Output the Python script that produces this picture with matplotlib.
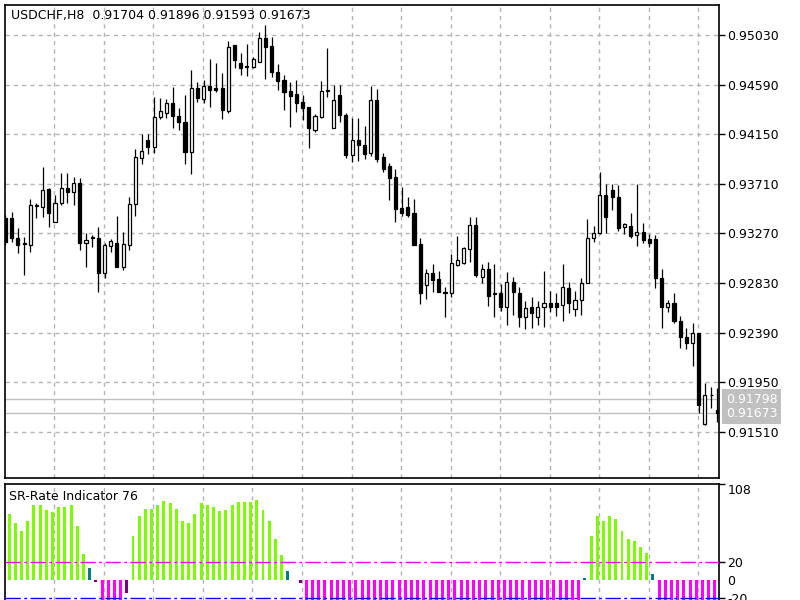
if True: # imports
    import matplotlib
    matplotlib.use('Agg')
    import matplotlib.pyplot as plt
    import matplotlib.transforms as mtransforms
    import numpy as np


symbol_title    = "USDCHF,H8  0.91704 0.91896 0.91593 0.91673"
indicator_title = "SR-Rate Indicator 76"

# H8 candles, oldest first
opens = [
  0.93406, 0.93406, 0.93229, 0.93185, 0.93167, 0.93513, 0.93504, 0.93664, 0.93371, 0.93539,
  0.93672, 0.93637, 0.93717, 0.93185, 0.93229, 0.93229, 0.92918, 0.93158, 0.93185, 0.92972,
  0.93167, 0.93531, 0.93939, 0.94098, 0.94036, 0.94302, 0.94338, 0.94426, 0.94311, 0.94261,
  0.93994, 0.94562, 0.94462, 0.94577, 0.94562, 0.94562, 0.94358, 0.94941, 0.94784, 0.94755,
  0.94748, 0.94793, 0.95003, 0.94932, 0.94704, 0.94630, 0.94536, 0.94506, 0.94438, 0.94388,
  0.94187, 0.94305, 0.94536, 0.94202, 0.94497, 0.94320, 0.93965, 0.94098, 0.94054, 0.93983,
  0.94453, 0.93947, 0.93868, 0.93770, 0.93495, 0.93507, 0.93451, 0.93176, 0.92812, 0.92918,
  0.92865, 0.92745, 0.92741, 0.92989, 0.93007, 0.93131, 0.93344, 0.92883, 0.92954, 0.92732,
  0.92741, 0.92617, 0.92839, 0.92741, 0.92528, 0.92617, 0.92528, 0.92620, 0.92655, 0.92655,
  0.92635, 0.92788, 0.92599, 0.92679, 0.92832, 0.93226, 0.93276, 0.93610, 0.93655, 0.93590,
  0.93329, 0.93335, 0.93256, 0.93285, 0.93217, 0.93217, 0.92872, 0.92620, 0.92650, 0.92495,
  0.92348, 0.92300, 0.92389, 0.91579, 0.91836, 0.91704 ]
highs = [
  0.93433, 0.93460, 0.93318, 0.93238, 0.93575, 0.93539, 0.93859, 0.93672, 0.93610, 0.93806,
  0.93806, 0.93770, 0.93761, 0.93273, 0.93256, 0.93327, 0.93185, 0.93220, 0.93424, 0.93282,
  0.93593, 0.94018, 0.94151, 0.94151, 0.94480, 0.94471, 0.94462, 0.94568, 0.94382, 0.94497,
  0.94719, 0.94615, 0.94630, 0.94817, 0.94784, 0.94692, 0.94979, 0.94941, 0.94870, 0.94950,
  0.94834, 0.95059, 0.95118, 0.95015, 0.94772, 0.94675, 0.94615, 0.94630, 0.94497, 0.94391,
  0.94329, 0.94622, 0.94914, 0.94586, 0.94586, 0.94338, 0.94293, 0.94293, 0.94222, 0.94577,
  0.94551, 0.93986, 0.93894, 0.93841, 0.93681, 0.93593, 0.93575, 0.93229, 0.92954, 0.92998,
  0.92936, 0.92794, 0.93087, 0.93247, 0.93149, 0.93415, 0.93415, 0.92998, 0.93016, 0.92998,
  0.92821, 0.92927, 0.92883, 0.92794, 0.92670, 0.92706, 0.92670, 0.92939, 0.92761, 0.92744,
  0.92998, 0.92841, 0.92761, 0.92874, 0.93398, 0.93335, 0.93817, 0.93708, 0.93708, 0.93699,
  0.93362, 0.93453, 0.93708, 0.93365, 0.93264, 0.93256, 0.92951, 0.92679, 0.92744, 0.92537,
  0.92428, 0.92472, 0.92389, 0.91946, 0.91905, 0.91896 ]
lows = [
  0.93167, 0.93193, 0.93096, 0.92901, 0.93105, 0.93406, 0.93415, 0.93327, 0.93371, 0.93522,
  0.93539, 0.93522, 0.93123, 0.92972, 0.93149, 0.92750, 0.92874, 0.93105, 0.92972, 0.92945,
  0.93123, 0.93424, 0.93885, 0.93974, 0.93983, 0.94285, 0.94293, 0.94205, 0.94187, 0.93885,
  0.93797, 0.94438, 0.94426, 0.94391, 0.94527, 0.94285, 0.94338, 0.94737, 0.94675, 0.94666,
  0.94737, 0.94793, 0.94639, 0.94657, 0.94542, 0.94364, 0.94214, 0.94349, 0.94276, 0.94027,
  0.94172, 0.94293, 0.94480, 0.94202, 0.94258, 0.93939, 0.93906, 0.93915, 0.93930, 0.93956,
  0.93906, 0.93817, 0.93566, 0.93374, 0.93424, 0.93418, 0.93167, 0.92643, 0.92688, 0.92750,
  0.92750, 0.92528, 0.92706, 0.92981, 0.92998, 0.93016, 0.92883, 0.92830, 0.92626, 0.92528,
  0.92581, 0.92457, 0.92546, 0.92440, 0.92422, 0.92431, 0.92457, 0.92442, 0.92575, 0.92537,
  0.92495, 0.92566, 0.92537, 0.92546, 0.92830, 0.93196, 0.93264, 0.93273, 0.93477, 0.93294,
  0.93264, 0.93226, 0.93158, 0.93182, 0.93146, 0.92783, 0.92428, 0.92575, 0.92472, 0.92251,
  0.92242, 0.92094, 0.91674, 0.91570, 0.91718, 0.91593 ]
closes = [
  0.93193, 0.93229, 0.93167, 0.93176, 0.93522, 0.93522, 0.93655, 0.93451, 0.93539, 0.93672,
  0.93637, 0.93717, 0.93185, 0.93211, 0.93238, 0.92918, 0.93167, 0.93202, 0.92972, 0.93176,
  0.93531, 0.93947, 0.94001, 0.94036, 0.94302, 0.94355, 0.94426, 0.94311, 0.94258, 0.93994,
  0.94562, 0.94473, 0.94577, 0.94542, 0.94542, 0.94364, 0.94923, 0.94808, 0.94737, 0.94748,
  0.94817, 0.95003, 0.94926, 0.94704, 0.94624, 0.94527, 0.94489, 0.94429, 0.94379, 0.94202,
  0.94314, 0.94536, 0.94540, 0.94453, 0.94320, 0.93965, 0.94098, 0.94054, 0.93974, 0.94453,
  0.93930, 0.93841, 0.93761, 0.93486, 0.93453, 0.93433, 0.93167, 0.92741, 0.92918, 0.92856,
  0.92750, 0.92750, 0.93007, 0.93034, 0.93140, 0.93344, 0.92901, 0.92954, 0.92714, 0.92737,
  0.92617, 0.92839, 0.92750, 0.92528, 0.92608, 0.92564, 0.92617, 0.92655, 0.92620, 0.92620,
  0.92794, 0.92650, 0.92679, 0.92832, 0.93229, 0.93276, 0.93610, 0.93418, 0.93590, 0.93315,
  0.93353, 0.93247, 0.93285, 0.93211, 0.93182, 0.92872, 0.92620, 0.92650, 0.92495, 0.92354,
  0.92295, 0.92389, 0.91748, 0.91836, 0.91840, 0.91673 ]

price_ticks = [0.95030, 0.94590, 0.94150, 0.93710, 0.93270,
               0.92830, 0.92390, 0.91950, 0.91510]
ask_price = 0.91798
bid_price = 0.91673

# SR-Rate indicator, one value per candle
sr_rate = [
   74,  64,  55,  66,  84,  84,  78,  76,  82,  82,
   84,  61,  29,  14,  -2, -30, -30, -30, -30, -14,
   49,  72,  80,  80,  84,  89,  86,  80,  66,  64,
   74,  86,  84,  82,  77,  78,  84,  87,  87,  87,
   90,  78,  66,  46,  28,  10,   0,  -3, -30, -30,
  -30, -30, -30, -30, -30, -30, -30, -30, -30, -30,
  -30, -30, -30, -30, -30, -30, -30, -30, -30, -30,
  -30, -30, -30, -30, -30, -30, -30, -30, -30, -30,
  -30, -30, -30, -30, -30, -30, -30, -30, -30, -30,
  -30, -30, -30,   3,  50,  72,  66,  72,  68,  55,
   46,  44,  37,  31,   7, -30, -30, -30, -30, -30,
  -30, -30, -30, -30, -30, -30 ]
sr_ticks  = [108, 20, 0, -20]
sr_labels = ["108", "20", "0", "-20"]


if True: # figure and the two panes, placed in pixels
  W, H = 800.0, 600.0
  fig = plt.figure(figsize=(8, 6), dpi=100)
  ax  = fig.add_axes([5/W, 1 - 478/H, 714/W, (478 - 4.5)/H])
  ax2 = fig.add_axes([5/W, 0.0,       714/W, (600 - 483.5)/H])

  grid_color = '#b4b4b4'
  grid_style = (0, (3, 3))
  xlim = (-0.08, 115.27)
  grid_x = np.arange(8, 116, 8) - 0.1   # terminal grid every 8 bars


if True: # candles
  o = np.array(opens); h = np.array(highs)
  l = np.array(lows);  c = np.array(closes)
  x = np.arange(len(o))
  up = c >= o
  ax.vlines(x, l, h, color='black', linewidth=0.9, zorder=2)
  ax.bar(x, np.abs(c - o), width=0.5, bottom=np.minimum(o, c),
         color=np.where(up, 'white', 'black'), edgecolor='black',
         linewidth=0.9, zorder=3)

  ax.axhline(ask_price, color='#c0c0c0', linewidth=1, zorder=1)
  ax.axhline(bid_price, color='#c0c0c0', linewidth=1, zorder=1)

  ax.set_xlim(*xlim)
  ax.set_ylim(0.91100, 0.95300)
  ax.yaxis.tick_right()
  ax.set_yticks(price_ticks)
  ax.set_yticklabels(["%.5f" % t for t in price_ticks])
  ax.tick_params(axis='y', direction='out', length=4, width=1,
                 labelsize=9, pad=2, colors='black')
  ax.set_xticks(grid_x)
  ax.tick_params(axis='x', length=0, labelbottom=False)
  ax.grid(True, color=grid_color, linestyle=grid_style, linewidth=1)
  ax.set_axisbelow(True)
  for s in ax.spines.values():
    s.set_linewidth(1.2)

  trans = mtransforms.blended_transform_factory(ax.transAxes, ax.transData)
  for p in [ask_price, bid_price]:
    ax.text(1.0 + 7/714, p, "%.5f" % p, transform=trans, color='white',
            fontsize=9, ha='left', va='center', clip_on=False, zorder=10,
            bbox=dict(boxstyle='square,pad=0.3', fc='#c0c0c0', ec='none'))

  fig.text(11/W, 1 - 15/H, symbol_title, fontsize=9, ha='left', va='center')


if True: # SR-Rate pane
  def sr_color(v):
    if v >= 20: return '#7cfc00'
    if v > 0:   return '#008080'
    if v > -20: return '#800080'
    return '#ff00ff'

  hist_shift = 0.6
  ax2.bar(np.arange(len(sr_rate)) + hist_shift, sr_rate, width=0.48,
          color=[sr_color(v) for v in sr_rate], linewidth=0, zorder=2)
  ax2.axhline(20, color='#ff00ff', linewidth=1,
              linestyle=(0, (11, 2.5, 2, 2.5)), zorder=3)
  ax2.axhline(-20, color='#0000ff', linewidth=1,
              linestyle=(0, (11, 2.5, 2, 2.5)), zorder=3)

  ax2.set_xlim(*xlim)
  ax2.set_ylim(-21.9, 108)
  ax2.yaxis.tick_right()
  ax2.set_yticks(sr_ticks)
  ax2.set_yticklabels(sr_labels)
  ax2.tick_params(axis='y', direction='out', length=4, width=1,
                  labelsize=9, pad=2, colors='black')
  ax2.get_yticklabels()[0].set_verticalalignment('top')
  ax2.yaxis.get_major_ticks()[2].tick2line.set_visible(False)
  ax2.set_xticks(grid_x)
  ax2.tick_params(axis='x', length=0, labelbottom=False)
  ax2.grid(True, axis='x', color=grid_color, linestyle=grid_style, linewidth=1)
  ax2.set_axisbelow(True)
  for s in ax2.spines.values():
    s.set_linewidth(1.2)
  ax2.spines['bottom'].set_visible(False)

  fig.text(9/W, 1 - 497/H, indicator_title, fontsize=9, ha='left', va='center')


fig.savefig("out.png", dpi=100)
